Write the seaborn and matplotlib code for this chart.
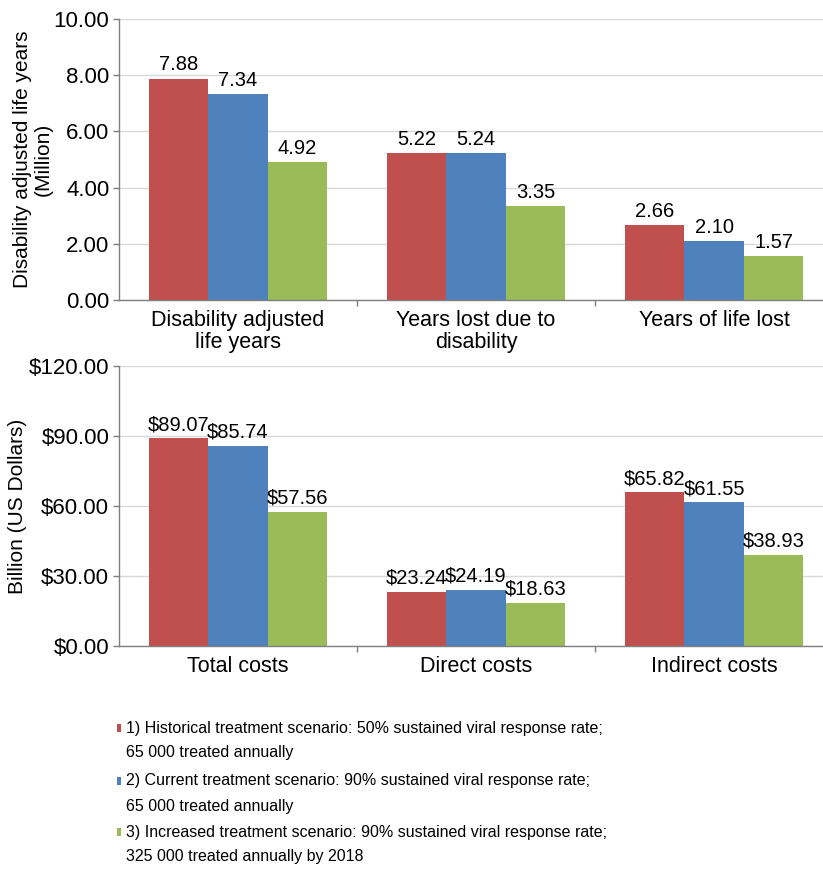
import matplotlib
matplotlib.use("Agg")
import matplotlib.pyplot as plt
from matplotlib.patches import Rectangle
import seaborn as sns
import pandas as pd

# ---- data ----
scenarios = ["Historical", "Current", "Increased"]
daly_categories = ["Disability adjusted\nlife years", "Years lost due to\ndisability", "Years of life lost"]
daly_historical = [7.88, 5.22, 2.66]
daly_current = [7.34, 5.24, 2.10]
daly_increased = [4.92, 3.35, 1.57]

cost_categories = ["Total costs", "Direct costs", "Indirect costs"]
cost_historical = [89.07, 23.24, 65.82]
cost_current = [85.74, 24.19, 61.55]
cost_increased = [57.56, 18.63, 38.93]

daly_ticks = [0, 2, 4, 6, 8, 10]
cost_ticks = [0, 30, 60, 90, 120]

legend_lines = [
    ("1) Historical treatment scenario: 50% sustained viral response rate;", "65 000 treated annually"),
    ("2) Current treatment scenario: 90% sustained viral response rate;", "65 000 treated annually"),
    ("3) Increased treatment scenario: 90% sustained viral response rate;", "325 000 treated annually by 2018"),
]

colors = ["#C0504D", "#4F81BD", "#9BBB59"]

sns.set_theme(style="white")
plt.rcParams["font.family"] = ["Liberation Sans", "DejaVu Sans"]

TICK_FS = 16
VALUE_FS = 14.5
CAT_FS = 15.5
LABEL_FS = 15
LEGEND_FS = 11.5

W, H = 823, 869
fig = plt.figure(figsize=(W / 100, H / 100), dpi=100)
left = 119 / W
width = (W - 119) / W
ax1 = fig.add_axes([left, 1 - 300 / H, width, (300 - 19) / H])
ax2 = fig.add_axes([left, 1 - 646 / H, width, (646 - 366) / H])


def long_frame(categories, series):
    rows = []
    for name, vals in zip(scenarios, series):
        for c, v in zip(categories, vals):
            rows.append({"category": c, "scenario": name, "value": v})
    return pd.DataFrame(rows)


def draw(ax, categories, series, ticks, fmt):
    df = long_frame(categories, series)
    sns.barplot(data=df, x="category", y="value", hue="scenario",
                hue_order=scenarios, order=categories, palette=colors,
                saturation=1, width=0.75, linewidth=0, legend=False,
                errorbar=None, ax=ax)
    for cont, vals in zip(ax.containers, series):
        ax.bar_label(cont, labels=[fmt.format(v) for v in vals],
                     padding=3, fontsize=VALUE_FS, color="black")
    ax.set_ylim(ticks[0], ticks[-1])
    ax.set_yticks(ticks)
    ax.set_yticklabels([fmt.format(t) for t in ticks], fontsize=TICK_FS, color="black")
    ax.set_xlim(-0.5, 2.5 - 10 / 238)
    ax.set_xticks(range(len(categories)))
    ax.set_xticklabels(categories, fontsize=CAT_FS, color="black", linespacing=1.05)
    ax.set_xticks([0.5, 1.5], minor=True)
    ax.tick_params(axis="x", which="major", length=0, pad=7)
    ax.tick_params(axis="x", which="minor", length=4, width=1, color="#7F7F7F",
                   direction="out", bottom=True)
    ax.tick_params(axis="y", length=4, width=1, color="#7F7F7F",
                   direction="out", left=True, pad=3)
    ax.set_xlabel("")
    ax.yaxis.grid(True, color="#D9D9D9", linewidth=1)
    ax.set_axisbelow(True)
    for s in ["top", "right"]:
        ax.spines[s].set_visible(False)
    for s in ["left", "bottom"]:
        ax.spines[s].set_color("#7F7F7F")
        ax.spines[s].set_linewidth(1)


draw(ax1, daly_categories, [daly_historical, daly_current, daly_increased],
     daly_ticks, "{:.2f}")
draw(ax2, cost_categories, [cost_historical, cost_current, cost_increased],
     cost_ticks, "${:.2f}")

ax1.set_ylabel("Disability adjusted life years\n(Million)", fontsize=LABEL_FS,
               color="black", linespacing=1.1)
ax1.yaxis.set_label_coords((53 - 119) / (W - 119), 0.5)
ax2.set_ylabel("Billion (US Dollars)", fontsize=LABEL_FS, color="black")
ax2.yaxis.set_label_coords((27 - 119) / (W - 119), 0.5)

# legend block
line_y = [(728, 752), (781, 806), (832, 857)]
for (first, second), (y1, y2), col in zip(legend_lines, line_y, colors):
    fig.add_artist(Rectangle((117 / W, 1 - (y1 + 4) / H), 4 / W, 8 / H,
                             transform=fig.transFigure, color=col, lw=0))
    fig.text(126 / W, 1 - y1 / H, first, ha="left", va="center",
             fontsize=LEGEND_FS, color="black")
    fig.text(126 / W, 1 - y2 / H, second, ha="left", va="center",
             fontsize=LEGEND_FS, color="black")

fig.savefig("out.png", dpi=100, facecolor="white")
